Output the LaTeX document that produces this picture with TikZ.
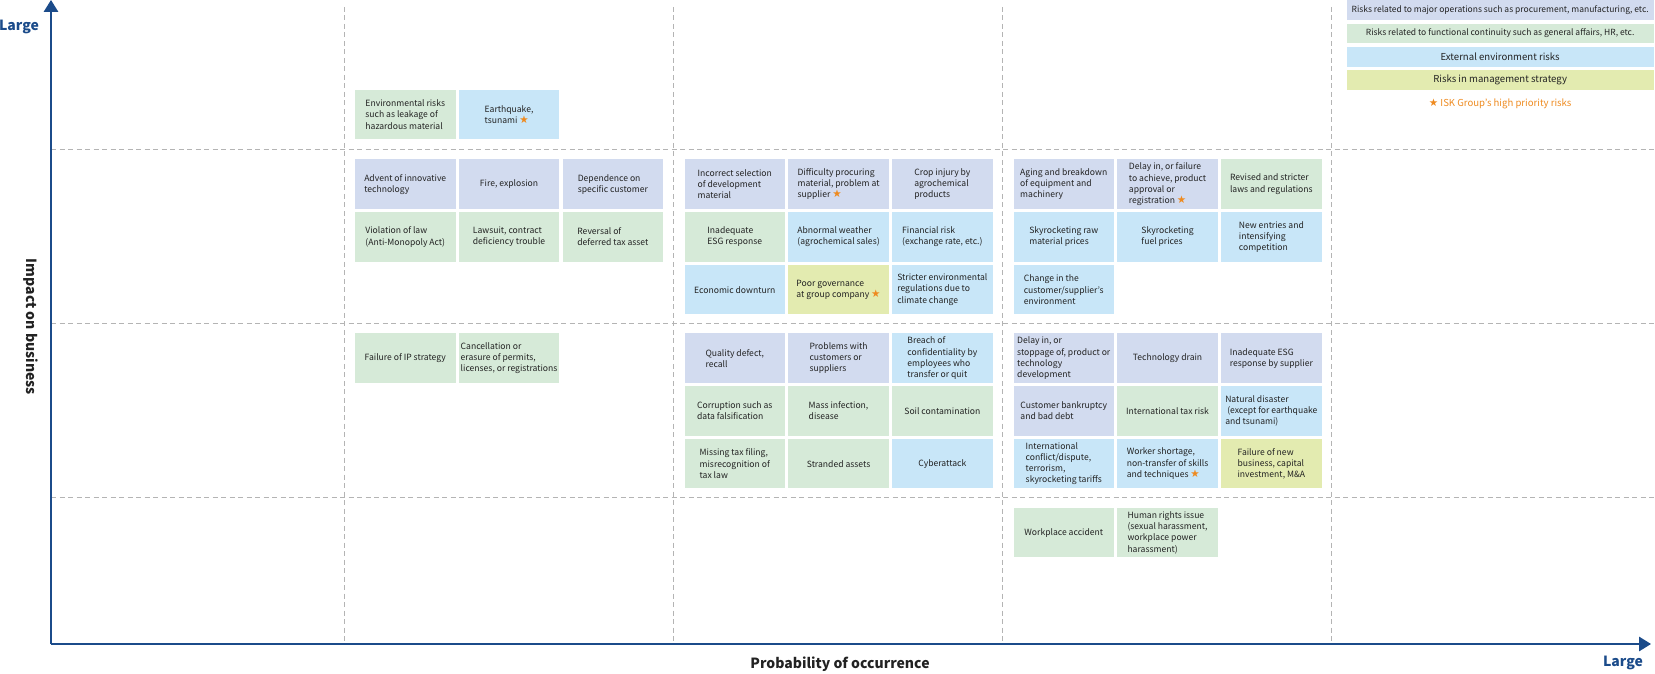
\documentclass[tikz,border=0pt]{standalone}
\usepackage{fontspec}
\setmainfont{Noto Sans CJK JP}
\newfontfamily\starfont{DejaVu Sans}
\usepackage{xcolor}
\usetikzlibrary{arrows.meta,positioning}

\definecolor{opsblue}{HTML}{D2DBEF}
\definecolor{funcgreen}{HTML}{D6EAD8}
\definecolor{extblue}{HTML}{C8E6F8}
\definecolor{mgmtyellow}{HTML}{E3EBB0}
\definecolor{starorange}{HTML}{EE8A1F}
\definecolor{axisblue}{HTML}{1B4B8A}
\definecolor{gridgray}{HTML}{B4B4B4}
\definecolor{inktext}{HTML}{222222}

\newcommand{\prio}{{\color{starorange}\starfont\fontsize{10.5}{10}\selectfont\char"2605}}

\begin{document}
\begin{tikzpicture}[
  x=1pt, y=1pt,
  node distance=2.8pt and 2.9pt,
  risk/.style={minimum width=100.5pt, minimum height=49.5pt, inner xsep=1pt,
    inner ysep=1pt, align=left, text=inktext,
    font=\fontsize{8.6}{11.2}\selectfont},
  ops/.style={risk, fill=opsblue},
  func/.style={risk, fill=funcgreen},
  ext/.style={risk, fill=extblue},
  mgmt/.style={risk, fill=mgmtyellow},
  legbox/.style={minimum width=307.3pt, minimum height=19.7pt, inner sep=0pt,
    text=inktext, font=\fontsize{9.6}{11}\selectfont},
  legsmall/.style={legbox, font=\fontsize{8.5}{11}\selectfont},
  axtitle/.style={font=\bfseries\fontsize{14}{16}\selectfont, text=inktext},
  gridline/.style={draw=gridgray, line width=0.8pt, dash pattern=on 5pt off 3.5pt},
  axisline/.style={draw=axisblue, line width=1.5pt, -{Triangle[length=12pt,width=14.5pt]}}
]
  \useasboundingbox (0,0) rectangle (1655,673);

  \foreach \gx in {344,673.4,1002.7,1331} \draw[gridline] (\gx,666) -- (\gx,29);
  \foreach \gy in {523.5,349.7,176} \draw[gridline] (51,\gy) -- (1655,\gy);

  \coordinate (origin) at (51,29);
  \coordinate (ytip) at (51,673);
  \coordinate (xtip) at (1651,29);
  \draw[axisline] (origin) -- (ytip);
  \draw[axisline] (origin) -- (xtip);

  \node[axtitle, text=axisblue] (ylarge) at (19,646) {Large};
  \node[axtitle, text=axisblue] (xlarge) at (1623,10) {Large};
  \node[axtitle] (xtitle) at (840,9) {Probability of occurrence};
  \node[axtitle, rotate=-90] (ytitle) at (30.5,346) {Impact on business};

  \node[func, anchor=north west] (envleak) at (354.8,583.5) {Environmental risks\\such as leakage of\\hazardous material};
  \node[ext, right=of envleak] (quake) {Earthquake,\\tsunami \prio};

  \node[ops, anchor=north west] (innov) at (354.8,513.7) {Advent of innovative\\technology};
  \node[ops, right=of innov] (fire) {Fire, explosion};
  \node[ops, right=of fire] (depcust) {Dependence on\\specific customer};
  \node[func, below=of innov] (violaw) {Violation of law\\(Anti-Monopoly Act)};
  \node[func, right=of violaw] (lawsuit) {Lawsuit, contract\\deficiency trouble};
  \node[func, right=of lawsuit] (deftax) {Reversal of\\deferred tax asset};

  \node[ops, anchor=north west] (devmat) at (684.3,513.7) {Incorrect selection\\of development\\material};
  \node[ops, right=of devmat] (procure) {Difficulty procuring\\material, problem at\\supplier \prio};
  \node[ops, right=of procure] (cropinj) {Crop injury by\\agrochemical\\products};
  \node[func, below=of devmat] (esgresp) {Inadequate\\ESG response};
  \node[ext, right=of esgresp] (weather) {Abnormal weather\\(agrochemical sales)};
  \node[ext, right=of weather] (finrisk) {Financial risk\\(exchange rate, etc.)};
  \node[ext, below=of esgresp] (downturn) {Economic downturn};
  \node[mgmt, right=of downturn] (govern) {Poor governance\\at group company \prio};
  \node[ext, right=of govern] (envreg) {Stricter environmental\\regulations due to\\climate change};

  \node[ops, anchor=north west] (aging) at (1013.3,513.7) {Aging and breakdown\\of equipment and\\machinery};
  \node[ops, right=of aging] (approval) {Delay in, or failure\\to achieve, product\\approval or\\registration \prio};
  \node[func, right=of approval] (revlaw) {Revised and stricter\\laws and regulations};
  \node[ext, below=of aging] (rawmat) {Skyrocketing raw\\material prices};
  \node[ext, right=of rawmat] (fuel) {Skyrocketing\\fuel prices};
  \node[ext, right=of fuel] (entries) {New entries and\\intensifying\\competition};
  \node[ext, below=of rawmat] (custenv) {Change in the\\customer/supplier’s\\environment};

  \node[func, anchor=north west] (ipstrat) at (354.8,339.7) {Failure of IP strategy};
  \node[func, right=of ipstrat] (permits) {Cancellation or\\erasure of permits,\\licenses, or registrations};

  \node[ops, anchor=north west] (quality) at (684.3,339.7) {Quality defect,\\recall};
  \node[ops, right=of quality] (custprob) {Problems with\\customers or\\suppliers};
  \node[ext, right=of custprob] (breach) {Breach of\\confidentiality by\\employees who\\transfer or quit};
  \node[func, below=of quality] (corrupt) {Corruption such as\\data falsification};
  \node[func, right=of corrupt] (infect) {Mass infection,\\disease};
  \node[func, right=of infect] (soil) {Soil contamination};
  \node[func, below=of corrupt] (taxfile) {Missing tax filing,\\misrecognition of\\tax law};
  \node[func, right=of taxfile] (stranded) {Stranded assets};
  \node[ext, right=of stranded] (cyber) {Cyberattack};

  \node[ops, anchor=north west] (techdelay) at (1013.3,339.7) {Delay in, or\\stoppage of, product or\\technology\\development};
  \node[ops, right=of techdelay] (techdrain) {Technology drain};
  \node[ops, right=of techdrain] (esgsupp) {Inadequate ESG\\response by supplier};
  \node[ops, below=of techdelay] (bankrupt) {Customer bankruptcy\\and bad debt};
  \node[func, right=of bankrupt] (taxrisk) {International tax risk};
  \node[ext, right=of taxrisk] (natdis) {Natural disaster\\\hspace*{2pt}(except for earthquake\\and tsunami)};
  \node[ext, below=of bankrupt] (conflict) {International\\conflict/dispute,\\terrorism,\\skyrocketing tariffs};
  \node[ext, right=of conflict] (workers) {Worker shortage,\\non-transfer of skills\\and techniques \prio};
  \node[mgmt, right=of workers] (newbiz) {Failure of new\\business, capital\\investment, M\&A};

  \node[func, anchor=north west] (accident) at (1013.3,165.3) {Workplace accident};
  \node[func, right=of accident] (rights) {Human rights issue\\(sexual harassment,\\workplace power\\harassment)};

  \node[legsmall, fill=opsblue, anchor=north east] (legops) at (1654,673) {Risks related to major operations such as procurement, manufacturing, etc.};
  \node[legsmall, fill=funcgreen, below=3.3pt of legops] (legfunc) {Risks related to functional continuity such as general affairs, HR, etc.};
  \node[legbox, fill=extblue, below=3.3pt of legfunc] (legext) {External environment risks};
  \node[legbox, fill=mgmtyellow, below=3.3pt of legext] (legmgmt) {Risks in management strategy};
  \node[legbox, text=starorange, below=3.3pt of legmgmt] (legstar) {\prio\ ISK Group’s high priority risks};
\end{tikzpicture}
\end{document}
